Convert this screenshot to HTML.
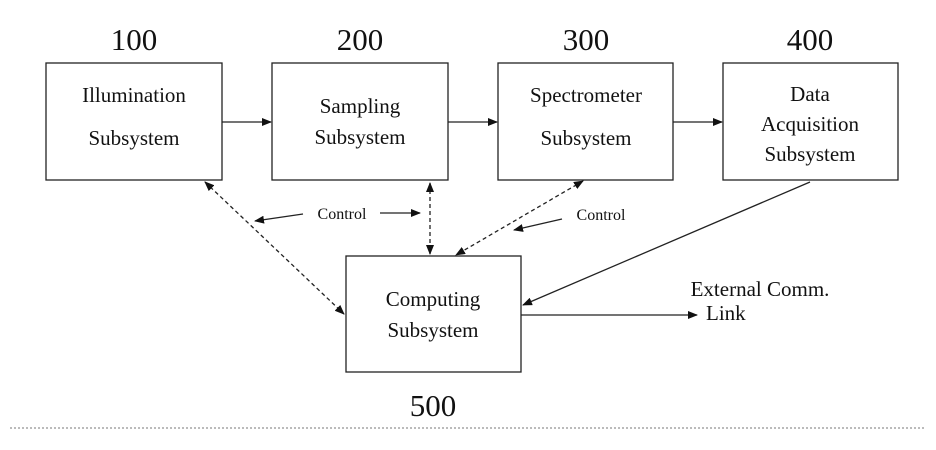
<!DOCTYPE html>
<html><head><style>body{margin:0;background:#fff}svg{display:block}text{font-family:"Liberation Serif",serif;fill:#111}</style></head><body>
<svg width="936" height="450" viewBox="0 0 936 450" xmlns="http://www.w3.org/2000/svg">
<defs><marker id="a" markerWidth="10" markerHeight="8" refX="9" refY="4" orient="auto" markerUnits="userSpaceOnUse"><path d="M0,0 L10,4 L0,8 z" fill="#111"/></marker>
<marker id="s" markerWidth="10" markerHeight="8" refX="1" refY="4" orient="auto" markerUnits="userSpaceOnUse"><path d="M10,0 L0,4 L10,8 z" fill="#111"/></marker></defs>
<g fill="none" stroke="#222" stroke-width="1.3">
<rect x="46" y="63" width="176" height="117"/>
<rect x="272" y="63" width="176" height="117"/>
<rect x="498" y="63" width="175" height="117"/>
<rect x="723" y="63" width="175" height="117"/>
<rect x="346" y="256" width="175" height="116"/>
<line x1="222" y1="122" x2="271" y2="122" marker-end="url(#a)"/>
<line x1="448" y1="122" x2="497" y2="122" marker-end="url(#a)"/>
<line x1="673" y1="122" x2="722" y2="122" marker-end="url(#a)"/>
<g stroke-dasharray="4,3">
<line x1="205" y1="182" x2="344" y2="314" marker-start="url(#s)" marker-end="url(#a)"/>
<line x1="430" y1="183" x2="430" y2="254" marker-start="url(#s)" marker-end="url(#a)"/>
<line x1="583" y1="181" x2="456" y2="255" marker-start="url(#s)" marker-end="url(#a)"/>
</g>
<line x1="810" y1="182" x2="523" y2="305" marker-end="url(#a)"/>
<line x1="521" y1="315" x2="697" y2="315" marker-end="url(#a)"/>
<line x1="303" y1="214" x2="255" y2="221" marker-end="url(#a)"/>
<line x1="380" y1="213" x2="420" y2="213" marker-end="url(#a)"/>
<line x1="562" y1="219" x2="514" y2="230" marker-end="url(#a)"/>
<line x1="10" y1="428" x2="926" y2="428" stroke="#777" stroke-width="1" stroke-dasharray="2,2"/>
</g>
<g font-size="31" text-anchor="middle">
<text x="134" y="50">100</text><text x="360" y="50">200</text><text x="586" y="50">300</text><text x="810" y="50">400</text><text x="433" y="416">500</text>
</g>
<g font-size="21" text-anchor="middle">
<text x="134" y="102">Illumination</text><text x="134" y="145">Subsystem</text>
<text x="360" y="113">Sampling</text><text x="360" y="144">Subsystem</text>
<text x="586" y="102">Spectrometer</text><text x="586" y="145">Subsystem</text>
<text x="810" y="101">Data</text><text x="810" y="131">Acquisition</text><text x="810" y="161">Subsystem</text>
<text x="433" y="306">Computing</text><text x="433" y="337">Subsystem</text>
<text x="760" y="296">External Comm.</text><text x="706" y="320" text-anchor="start">Link</text>
</g>
<g font-size="16" text-anchor="middle"><text x="342" y="219">Control</text><text x="601" y="220">Control</text></g>
</svg>
</body></html>
